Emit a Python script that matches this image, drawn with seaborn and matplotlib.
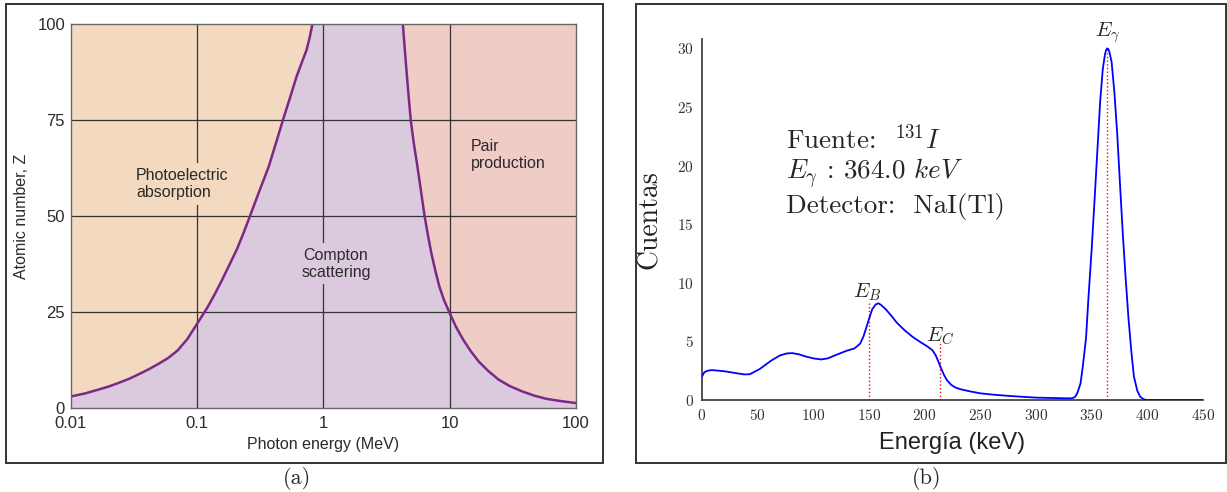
import matplotlib
matplotlib.use("Agg")
import matplotlib.pyplot as plt
import seaborn as sns
from matplotlib.patches import Rectangle
from matplotlib.ticker import FuncFormatter

# ---- data: panel (a), interaction dominance boundaries ----
pe_energy = [0.01, 0.013, 0.0166, 0.02, 0.0238, 0.029, 0.0341, 0.041, 0.049,
             0.059, 0.0703, 0.084, 0.1, 0.121, 0.138, 0.156, 0.18, 0.208,
             0.235, 0.262, 0.31, 0.37, 0.42, 0.479, 0.545, 0.614, 0.676,
             0.736, 0.78, 0.82]
pe_z = [3.0, 3.8, 4.8, 5.6, 6.5, 7.6, 8.7, 10.0, 11.4, 13.0, 15.0, 18.0,
        21.9, 26.2, 29.6, 33.0, 37.2, 41.5, 45.8, 49.9, 56.3, 62.9, 68.8,
        75.0, 80.8, 86.3, 90.0, 93.2, 96.5, 100.0]
pp_energy = [4.26, 4.45, 4.64, 4.92, 5.2, 5.56, 5.95, 6.34, 6.75, 7.17, 7.7,
             8.28, 9.0, 9.92, 11.2, 12.8, 14.7, 17.0, 20.3, 24.4, 30.0, 37.7,
             47.0, 58.2, 76.0, 100.0]
pp_z = [100.0, 92.0, 84.6, 75.0, 69.0, 62.9, 56.2, 49.9, 44.8, 40.3, 35.8,
        31.7, 28.2, 25.0, 21.2, 17.8, 14.8, 12.1, 9.6, 7.4, 5.7, 4.3, 3.2,
        2.4, 1.8, 1.3]
a_xticks = [0.01, 0.1, 1, 10, 100]
a_xticklabels = ["0.01", "0.1", "1", "10", "100"]
a_yticks = [0, 25, 50, 75, 100]

# ---- data: panel (b), I-131 spectrum ----
energy = [0, 2, 5, 9, 15, 21, 30, 38, 43, 52, 62, 70, 76, 81, 87, 93, 100,
          107, 113, 118, 124, 130, 137, 142, 145, 148, 151, 153, 156, 158.5,
          161, 165, 170, 175, 182, 189, 196, 202, 207, 210, 212.5, 215, 217.6,
          220, 224, 228, 233, 240, 250, 262, 277, 290, 301, 315, 325, 332,
          335, 337, 340, 342, 345, 347, 350, 352.6, 355, 357.7, 360, 362, 363,
          364, 365, 366, 368, 370.5, 373, 375.5, 378, 380.5, 383, 385.5, 388,
          391, 393.6, 397, 400, 425, 450]
counts = [2.0, 2.35, 2.5, 2.55, 2.5, 2.44, 2.3, 2.18, 2.2, 2.65, 3.35, 3.8,
          3.97, 4.0, 3.9, 3.72, 3.55, 3.46, 3.55, 3.75, 3.98, 4.2, 4.4, 4.8,
          5.4, 6.3, 7.2, 7.75, 8.15, 8.25, 8.1, 7.75, 7.2, 6.6, 5.95, 5.4,
          4.95, 4.6, 4.25, 3.8, 3.25, 2.65, 2.1, 1.7, 1.28, 1.05, 0.9, 0.75,
          0.57, 0.45, 0.34, 0.26, 0.2, 0.17, 0.15, 0.14, 0.25, 0.55, 1.4, 2.8,
          5.3, 8.5, 12.8, 17.0, 21.0, 25.5, 28.2, 29.5, 29.85, 30.0, 29.95,
          29.7, 28.8, 26.2, 22.7, 18.4, 14.2, 10.5, 7.1, 4.3, 2.0, 0.8, 0.28,
          0.05, 0.0, 0.0, 0.0]
marker_names = ["$E_B$", "$E_C$", r"$E_\gamma$"]
marker_energy = [150, 214, 364]
marker_top = [8.3, 5.0, 30.0]
b_xticks = [0, 50, 100, 150, 200, 250, 300, 350, 400, 450]
b_yticks = [0, 5, 10, 15, 20, 25, 30]

sns.set_style("white")
plt.rcParams["mathtext.fontset"] = "cm"
plt.rcParams["font.family"] = ["Liberation Sans Narrow", "Liberation Sans", "DejaVu Sans"]

peach = "#f3d9bf"
lavender = "#dbc9de"
pink = "#f0ccc6"
curve_col = "#7a2a86"

fig = plt.figure(figsize=(12.27, 4.92), dpi=100)

# ---------------- panel (a) ----------------
ax = fig.add_axes([0.0576, 0.1707, 0.4118, 0.7805])
ax.set_xscale("log")
ax.set_xlim(0.01, 100)
ax.set_ylim(0, 100)
ax.set_facecolor(lavender)
ax.fill_between(pe_energy, pe_z, 100, color=peach, lw=0, zorder=1)
ax.fill_between(pp_energy, pp_z, 100, color=pink, lw=0, zorder=1)
for xv in [0.1, 1, 10]:
    ax.axvline(xv, color="#333333", lw=0.9, zorder=2)
for yv in [25, 50, 75]:
    ax.axhline(yv, color="#333333", lw=0.9, zorder=2)
sns.lineplot(x=pe_energy, y=pe_z, ax=ax, color=curve_col, lw=1.8, zorder=3)
sns.lineplot(x=pp_energy, y=pp_z, ax=ax, color=curve_col, lw=1.8, zorder=3)

txt_kw = dict(fontsize=11.5, color="#2a2a2a", zorder=4, linespacing=1.15)
ax.text(0.0329, 58.3, "Photoelectric\nabsorption", ha="left", va="center",
        bbox=dict(boxstyle="square,pad=0.3", fc=peach, ec="none"), **txt_kw)
ax.text(1.26, 37.6, "Compton\nscattering", ha="center", va="center",
        bbox=dict(boxstyle="square,pad=0.3", fc=lavender, ec="none"), **txt_kw)
ax.text(14.8, 65.9, "Pair\nproduction", ha="left", va="center", **txt_kw)

ax.set_xticks(a_xticks)
ax.set_xticklabels(a_xticklabels)
ax.set_yticks(a_yticks)
ax.minorticks_off()
ax.tick_params(length=0, labelsize=12, labelcolor="#2a2a2a", pad=4)
ax.tick_params(axis="x", pad=6)
ax.set_xlabel("Photon energy (MeV)", fontsize=11.5, color="#2a2a2a", labelpad=4)
ax.set_ylabel("Atomic number, Z", fontsize=11.5, color="#2a2a2a", labelpad=6)
for s in ax.spines.values():
    s.set_color("#666666")
    s.set_linewidth(1.0)
    s.set_zorder(5)

# ---------------- panel (b) ----------------
bx = fig.add_axes([0.5721, 0.187, 0.4083, 0.7337])
sns.lineplot(x=energy, y=counts, ax=bx, color="#0000ff", lw=1.3, zorder=3)
for name, xe, top in zip(marker_names, marker_energy, marker_top):
    bx.plot([xe, xe], [0, top], color="red", ls=":", lw=1.0, zorder=2)
bx.text(148, 9.2, marker_names[0], ha="center", va="center", fontsize=15)
bx.text(214, 5.4, marker_names[1], ha="center", va="center", fontsize=15)
bx.text(364, 31.3, marker_names[2], ha="center", va="center", fontsize=15,
        clip_on=False)

bx.set_xlim(0, 450)
bx.set_ylim(0, 30.8)
bx.set_xticks(b_xticks)
bx.set_yticks(b_yticks)
fmt = FuncFormatter(lambda v, p: "$%g$" % v)
bx.xaxis.set_major_formatter(fmt)
bx.yaxis.set_major_formatter(fmt)
bx.tick_params(direction="in", length=4, width=1, color="#333333",
               labelsize=11, labelcolor="#333333", pad=6)
sns.despine(ax=bx)
for s in ["left", "bottom"]:
    bx.spines[s].set_color("#444444")
    bx.spines[s].set_linewidth(1.3)

bx.set_xlabel("Energía (keV)", fontsize=17, family="Liberation Sans",
              color="#222222", labelpad=6)
bx.set_ylabel("Cuentas", fontsize=20, family="cmr10", color="#222222",
              labelpad=10)

bx.text(75.5, 22.3, r"Fuente:  $^{131}I$", fontsize=19.5, family="cmr10",
        va="center", ha="left")
bx.text(75.5, 19.3, r"$E_\gamma$ : 364.0 $keV$", fontsize=19.5, family="cmr10",
        va="center", ha="left")
bx.text(75.5, 16.5, r"Detector:  NaI(Tl)", fontsize=19.5, family="cmr10",
        va="center", ha="left")

# ---------------- frames and captions ----------------
fig.patches.append(Rectangle((0.0049, 0.0589), 0.4865, 0.933,
                             transform=fig.transFigure, fill=False,
                             ec="#333333", lw=1.4))
fig.patches.append(Rectangle((0.5183, 0.0589), 0.4809, 0.933,
                             transform=fig.transFigure, fill=False,
                             ec="#333333", lw=1.4))
fig.text(0.242, 0.028, "(a)", ha="center", va="center", fontsize=16,
         family="cmr10")
fig.text(0.7555, 0.028, "(b)", ha="center", va="center", fontsize=16,
         family="cmr10")

fig.savefig("out.png", dpi=100)
